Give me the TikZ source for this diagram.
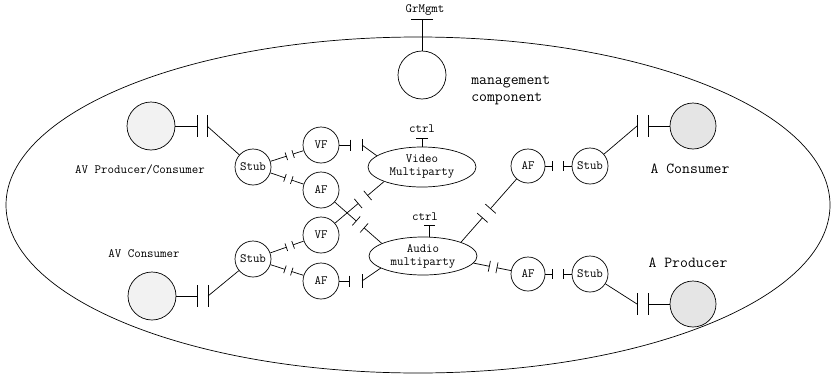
\documentclass[tikz,border=0pt]{standalone}
\usetikzlibrary{calc,shapes.geometric}
% connector with two facing bars perpendicular to the line
\newcommand{\plugline}[6]{%
  \coordinate (#6a) at ($(#1)!#3!(#2)$);
  \coordinate (#6b) at ($(#1)!#4!(#2)$);
  \draw (#1) -- (#6a);
  \draw (#6b) -- (#2);
  \draw ($(#6a)!#5!90:(#2)$) -- ($(#6a)!#5!-90:(#2)$);
  \draw ($(#6b)!#5!90:(#2)$) -- ($(#6b)!#5!-90:(#2)$);
}
\newcommand{\myvbar}[2]{\draw ([yshift=#2]#1) -- ([yshift=-#2]#1);}
\newcommand{\myhbar}[2]{\draw ([xshift=#2]#1) -- ([xshift=-#2]#1);}
\begin{document}
\begin{tikzpicture}[x=1pt,y=-1pt,line width=0.7pt,
  every node/.style={font=\ttfamily\fontsize{12.6}{13}\selectfont, inner sep=0pt},
  comp/.style={circle, draw, minimum size=36pt},
  avcirc/.style={circle, draw, minimum size=48pt},
  biglbl/.style={font=\ttfamily\fontsize{15.3}{17}\selectfont},
  mp/.style={ellipse, draw, minimum width=108pt, minimum height=40pt, align=center}
]
\useasboundingbox (0,0) rectangle (833,375);
% outer component
\node[draw, ellipse, minimum width=824pt, minimum height=336pt] (outer) at (418,205) {};
% management
\node[comp, minimum size=48pt] (mgmt) at (422,75) {};
\node (grl) at (425,10) {GrMgmt};
\coordinate (gt) at (422,19);
\draw (mgmt) -- (gt);
\myhbar{gt}{11pt}
\node[biglbl, anchor=west, align=left] (mc) at (471,90) {management\\component};
% left side
\node[avcirc, fill=gray!10] (avpc) at (151,126) {};
\node (avpcl) at (140,170) {AV Producer/Consumer};
\node[avcirc, fill=gray!10] (avcn) at (152,296) {};
\node (avcl) at (144,254) {AV Consumer};
\node[comp] (s1) at (253,167) {Stub};
\node[comp] (s2) at (253,259) {Stub};
\node[comp] (vf1) at (321,145) {VF};
\node[comp] (af1) at (321,190) {AF};
\node[comp] (vf2) at (321,235) {VF};
\node[comp] (af2) at (321,281) {AF};
% multiparty
\node[mp] (vm) at (422,167) {Video\\Multiparty};
\node[mp, minimum height=38pt] (am) at (423,256) {Audio\\multiparty};
\node (c1) at (422,129) {ctrl};
\node (c2) at (425,217) {ctrl};
% right side
\node[comp, minimum size=34pt] (af4) at (528,166) {AF};
\node[comp, minimum size=34pt] (af3) at (528,274) {AF};
\node[comp] (rs1) at (590,166) {Stub};
\node[comp] (rs2) at (590,274) {Stub};
\node[avcirc, minimum size=46pt, fill=gray!20] (acn) at (693,126) {};
\node[avcirc, minimum size=46pt, fill=gray!20] (apn) at (693,304) {};
\node[biglbl] (acl) at (690,169) {A Consumer};
\node[biglbl] (apl) at (688,263) {A Producer};
% ctrl interfaces
\coordinate (ct1) at (422,138);
\draw (ct1) -- (vm.north);
\myhbar{ct1}{6pt}
\coordinate (ct2) at (429,225);
\draw (ct2) -- (ct2 |- am.north);
\myhbar{ct2}{5.5pt}
% AV circles to stubs
\coordinate (k1a) at (197,126); \coordinate (k1b) at (207,126);
\draw (avpc) -- (k1a); \draw (k1b) -- (s1);
\myvbar{k1a}{11pt} \myvbar{k1b}{11pt}
\coordinate (k2a) at (197,296); \coordinate (k2b) at (208,296);
\draw (avcn) -- (k2a); \draw (k2b) -- (s2);
\myvbar{k2a}{11pt} \myvbar{k2b}{11pt}
% stubs to VF / AF
\plugline{s1}{vf1}{0.49}{0.59}{4pt}{m1}
\plugline{s1}{af1}{0.47}{0.57}{4pt}{m2}
\plugline{s2}{vf2}{0.49}{0.59}{4pt}{m3}
\plugline{s2}{af2}{0.47}{0.57}{4pt}{m4}
% VF1 / AF2 to multiparty
\coordinate (k3a) at (350,145); \coordinate (k3b) at (362,145);
\draw (vf1) -- (k3a); \draw (k3b) -- (vm.166);
\myvbar{k3a}{5.5pt} \myvbar{k3b}{6pt}
\coordinate (k4a) at (349,281); \coordinate (k4b) at (362,281);
\draw (af2) -- (k4a); \draw (k4b) -- (am.196);
\myvbar{k4a}{5.5pt} \myvbar{k4b}{7pt}
% crossing connectors
\plugline{af1}{am.163}{0.58}{0.71}{6pt}{x1}
\plugline{vf2}{vm.201}{0.59}{0.74}{6pt}{x2}
% audio multiparty to right AFs
\plugline{am.20}{af4}{0.32}{0.44}{7pt}{r1}
\plugline{am.352}{af3}{0.29}{0.43}{5.5pt}{r2}
% right AF to stubs
\coordinate (k5a) at (552,166); \coordinate (k5b) at (563,166);
\draw (af4) -- (k5a); \draw (k5b) -- (rs1);
\myvbar{k5a}{5pt} \myvbar{k5b}{5pt}
\coordinate (k6a) at (552,274); \coordinate (k6b) at (563,274);
\draw (af3) -- (k6a); \draw (k6b) -- (rs2);
\myvbar{k6a}{5pt} \myvbar{k6b}{5pt}
% right stubs to A circles
\coordinate (k7a) at (637,126); \coordinate (k7b) at (648,126);
\draw (rs1) -- (k7a); \draw (k7b) -- (acn);
\myvbar{k7a}{11pt} \myvbar{k7b}{11pt}
\coordinate (k8a) at (637,304); \coordinate (k8b) at (648,304);
\draw (rs2) -- (k8a); \draw (k8b) -- (apn);
\myvbar{k8a}{11pt} \myvbar{k8b}{11pt}
\end{tikzpicture}
\end{document}
